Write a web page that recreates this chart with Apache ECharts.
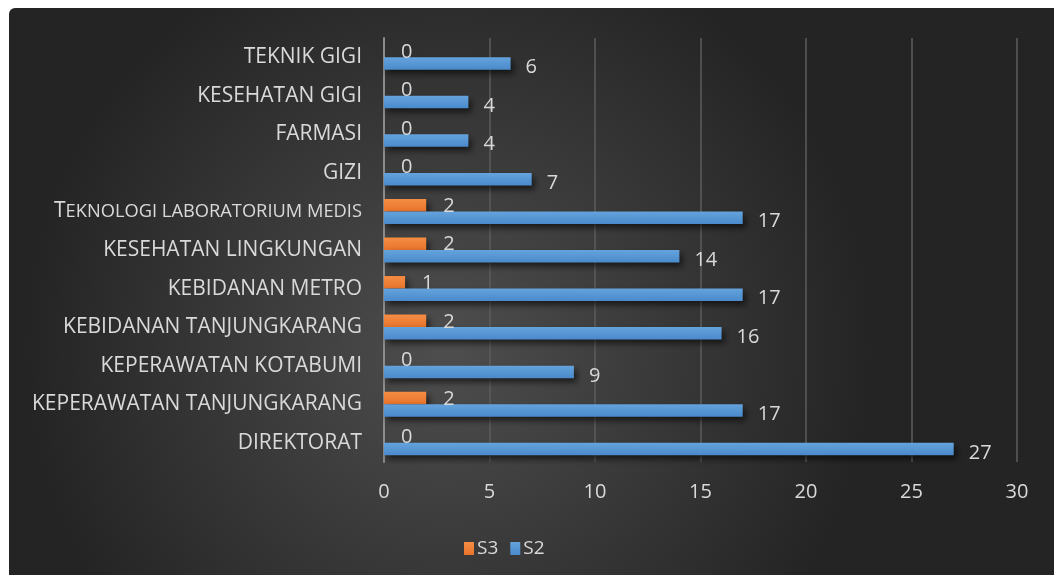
<!DOCTYPE html>
<html><head><meta charset="utf-8">
<script src="https://cdn.jsdelivr.net/npm/echarts@6/dist/echarts.min.js"></script>
<style>html,body{margin:0;padding:0;background:#fff}#c{width:1054px;height:575px}</style>
</head><body><div id="c"></div>
<script>
var categories = ['DIREKTORAT','KEPERAWATAN TANJUNGKARANG','KEPERAWATAN KOTABUMI','KEBIDANAN TANJUNGKARANG','KEBIDANAN METRO','KESEHATAN LINGKUNGAN','Teknologi laboratorium medis','GIZI','FARMASI','KESEHATAN GIGI','TEKNIK GIGI'];
var s3 = [0,2,0,2,1,2,2,0,0,0,0];
var s2 = [27,17,9,16,17,14,17,7,4,4,6];
var xTicks = [0,5,10,15,20,25,30];

var chart = echarts.init(document.getElementById('c'));
var font = '"Open Sans", "Noto Sans", sans-serif';
var txt = '#d9d9d9';
function grad(c1,c2){return new echarts.graphic.LinearGradient(0,0,0,1,[{offset:0,color:c1},{offset:1,color:c2}]);}
chart.setOption({
  backgroundColor:'#ffffff',
  graphic:[{type:'rect',z:-10,silent:true,shape:{x:9,y:8,width:1045,height:567,r:[6,0,0,0]},
    style:{fill:new echarts.graphic.RadialGradient(0.42,0.6,0.75,[{offset:0,color:'#4e4e4e'},{offset:1,color:'#242424'}])}}],
  grid:{left:384,right:37,top:38,bottom:113,containLabel:false},
  legend:{data:['S3','S2'],top:534,left:459,itemWidth:10,itemHeight:13,itemGap:12,
    textStyle:{color:txt,fontSize:19,fontFamily:font,padding:[0,0,0,-2]},icon:'rect'},
  xAxis:{type:'value',min:0,max:30,interval:5,
    axisLine:{show:false},axisTick:{show:false},
    axisLabel:{color:txt,fontSize:20,fontFamily:font,margin:20,
      formatter:function(v){return xTicks.indexOf(v)>=0?String(v):'';}},
    splitLine:{lineStyle:{color:'#5c5c5c',width:1.5}}},
  yAxis:{type:'category',data:categories,
    axisLine:{lineStyle:{color:'#8c8c8c',width:2}},axisTick:{show:false},
    axisLabel:{color:txt,fontSize:21,fontFamily:font,margin:22,
      formatter:function(v){ if(v===categories[6]){return '{a|T}{b|EKNOLOGI LABORATORIUM MEDIS}';} return v;},
      rich:{a:{fontSize:21,color:txt,fontFamily:font},b:{fontSize:18.3,color:txt,fontFamily:font,padding:[1,0,0,0]}}}},
  series:[
    {name:'S3',type:'bar',data:s3,barWidth:12.5,barGap:'0%',
      itemStyle:{color:grad('#f58d45','#e8742a'),shadowColor:'rgba(0,0,0,0.6)',shadowBlur:6,shadowOffsetX:3,shadowOffsetY:4},
      label:{show:true,position:'right',distance:17,color:txt,fontSize:20,fontFamily:font,offset:[0,1]}},
    {name:'S2',type:'bar',data:s2,barWidth:12.5,barGap:'0%',
      itemStyle:{color:grad('#64a3dc','#4a8acb'),shadowColor:'rgba(0,0,0,0.6)',shadowBlur:6,shadowOffsetX:3,shadowOffsetY:4},
      label:{show:true,position:'right',distance:15,color:txt,fontSize:20,fontFamily:font,offset:[0,4]}}
  ]
});
</script></body></html>
